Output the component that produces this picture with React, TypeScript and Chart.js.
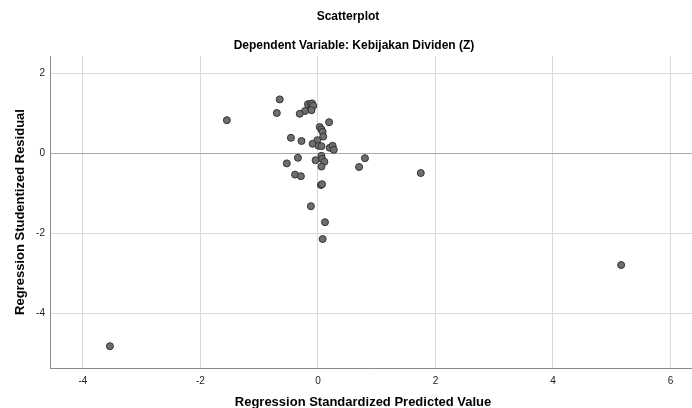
import React, { useEffect, useRef } from "react";
import { Chart, registerables } from "chart.js";

Chart.register(...registerables);

const chartTitle = "Scatterplot";
const chartSubtitle = "Dependent Variable: Kebijakan Dividen (Z)";
const xAxisTitle = "Regression Standardized Predicted Value";
const yAxisTitle = "Regression Studentized Residual";

const predicted: number[] = [
  -3.54, 5.16, 1.75, 0.8, 0.7, -1.55,
  -0.65, -0.7, -0.17, -0.12, -0.1, -0.08, -0.22, -0.31, -0.11,
  0.19, 0.03, 0.06, 0.08, 0.09, -0.46, -0.28, -0.01, -0.09, 0.01, 0.06,
  0.2, 0.25, 0.27, 0.06, 0.07, 0.11, -0.04, 0.06, -0.34, -0.53,
  -0.39, -0.29, 0.05, 0.07, -0.12, 0.12, 0.08,
];
const residual: number[] = [
  -4.83, -2.8, -0.5, -0.13, -0.35, 0.82,
  1.34, 1.0, 1.22, 1.23, 1.24, 1.18, 1.05, 0.98, 1.07,
  0.77, 0.65, 0.59, 0.53, 0.41, 0.38, 0.3, 0.32, 0.23, 0.18, 0.17,
  0.13, 0.18, 0.08, -0.07, -0.15, -0.22, -0.18, -0.34, -0.12, -0.26,
  -0.54, -0.58, -0.8, -0.78, -1.33, -1.73, -2.15,
];

const xTicks = [-4, -2, 0, 2, 4, 6];
const yTicks = [2, 0, -2, -4];

const FONT = "'Liberation Sans', Arial, sans-serif";

export default function App() {
  const canvasRef = useRef<HTMLCanvasElement | null>(null);

  useEffect(() => {
    document.body.style.margin = "0";
    const canvas = canvasRef.current;
    if (!canvas) return;

    const titlePlugin = {
      id: "spssTitles",
      afterDraw(chart: any) {
        const ctx = chart.ctx;
        ctx.save();
        ctx.fillStyle = "#000";
        ctx.textAlign = "center";
        ctx.textBaseline = "middle";
        ctx.font = `bold 12px ${FONT}`;
        ctx.fillText(chartTitle, 348, 17);
        ctx.fillText(chartSubtitle, 354, 46);
        ctx.font = `bold 13px ${FONT}`;
        ctx.fillText(xAxisTitle, 363, 402);
        ctx.translate(20, 212);
        ctx.rotate(-Math.PI / 2);
        ctx.fillText(yAxisTitle, 0, 0);
        ctx.restore();
      },
    };

    const chart = new Chart(canvas, {
      type: "scatter",
      data: {
        datasets: [
          {
            data: predicted.map((x, i) => ({ x, y: residual[i] })),
            pointRadius: 3.5,
            pointHoverRadius: 3.5,
            backgroundColor: "#6e6e6e",
            borderColor: "#333333",
            borderWidth: 1,
          },
        ],
      },
      options: {
        animation: false,
        responsive: false,
        maintainAspectRatio: false,
        events: [],
        layout: { autoPadding: false, padding: { top: 56, right: 0, left: 0, bottom: 0 } },
        plugins: {
          legend: { display: false },
          tooltip: { enabled: false },
          title: { display: false },
        },
        scales: {
          x: {
            type: "linear",
            min: -4.56,
            max: 6.366,
            afterFit: (s: any) => {
              s.height = 40;
              s.paddingLeft = 0;
              s.paddingRight = 0;
            },
            afterBuildTicks: (s: any) => {
              s.ticks = xTicks.map((v) => ({ value: v }));
            },
            ticks: {
              includeBounds: false,
              padding: 7,
              color: "#222",
              font: { family: FONT, size: 10 },
              callback: (v: any) => String(v),
            },
            grid: {
              drawTicks: false,
              color: "#d9d9d9",
              lineWidth: 1,
            },
            border: { display: true, color: "#8a8a8a", width: 1 },
          },
          y: {
            type: "linear",
            min: -5.375,
            max: 2.425,
            afterFit: (s: any) => {
              s.width = 50;
              s.paddingTop = 0;
              s.paddingBottom = 0;
            },
            afterBuildTicks: (s: any) => {
              s.ticks = yTicks.map((v) => ({ value: v }));
            },
            ticks: {
              includeBounds: false,
              padding: 5,
              color: "#222",
              font: { family: FONT, size: 10 },
              callback: (v: any) => String(v),
            },
            grid: {
              drawTicks: false,
              color: (c: any) => (c.tick && c.tick.value === 0 ? "#a9a9a9" : "#d9d9d9"),
              lineWidth: 1,
            },
            border: { display: true, color: "#8a8a8a", width: 1 },
          },
        },
      },
      plugins: [titlePlugin],
    } as any);

    return () => chart.destroy();
  }, []);

  return (
    <div style={{ position: "relative", width: 692, height: 408, background: "#fff" }}>
      <canvas ref={canvasRef} width={692} height={408} style={{ display: "block" }} />
    </div>
  );
}
